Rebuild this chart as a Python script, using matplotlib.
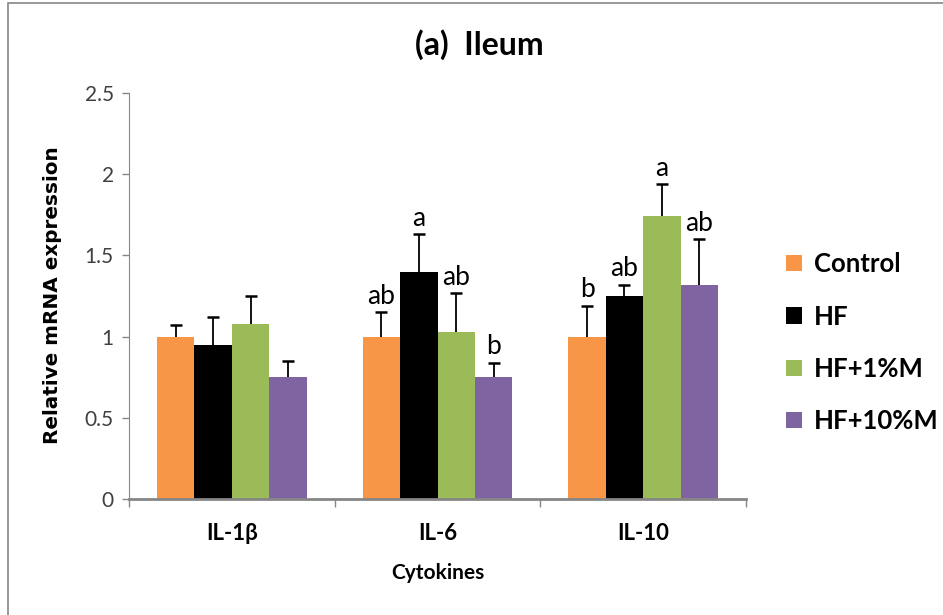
import numpy as np
import matplotlib
matplotlib.use('Agg')
import matplotlib.pyplot as plt
from matplotlib.patches import Rectangle

plt.rcParams['font.family'] = ['Lato', 'DejaVu Sans']

# Data
cytokines = ['IL-1β', 'IL-6', 'IL-10']
groups = ['Control', 'HF', 'HF+1%M', 'HF+10%M']
colors = ['#F79646', '#000000', '#9BBB59', '#8064A2']

means = [
    [1.00, 1.00, 1.00],   # Control
    [0.95, 1.40, 1.25],   # HF
    [1.08, 1.03, 1.74],   # HF+1%M
    [0.75, 0.75, 1.32],   # HF+10%M
]
errs = [
    [0.07, 0.15, 0.19],
    [0.17, 0.23, 0.07],
    [0.17, 0.24, 0.20],
    [0.10, 0.09, 0.28],
]
letters = [
    ['', 'ab', 'b'],
    ['', 'a', 'ab'],
    ['', 'ab', 'a'],
    ['', 'b', 'ab'],
]

fig = plt.figure(figsize=(9.43, 6.15), dpi=100)
ax = fig.add_axes([0.1368, 0.1886, 0.6543, 0.6602])

# outer frame of the chart
fig.patches.append(Rectangle((0.009, -0.01), 1.5, 1.005, transform=fig.transFigure,
                             fill=False, edgecolor='#868686', linewidth=1.2))

x = np.arange(len(cytokines))
w = 1 / 5.5
for i, g in enumerate(groups):
    pos = x + (i - 1.5) * w
    ax.bar(pos, means[i], w, color=colors[i], label=g, zorder=2)
    eb = ax.errorbar(pos, means[i], yerr=[np.zeros(3), errs[i]], fmt='none',
                     ecolor='black', elinewidth=1.3, capsize=4.5, capthick=1.8, zorder=3)
    eb[1][0].set_visible(False)  # only the upper cap
    for j in range(3):
        if letters[i][j]:
            ax.text(pos[j], means[i][j] + errs[i][j] + 0.02, letters[i][j],
                    ha='center', va='bottom', fontsize=19)

ax.set_xlim(-0.5, 2.5)
ax.set_ylim(0, 2.5)
ax.set_yticks(np.arange(0, 2.51, 0.5))
ax.set_yticklabels(['0', '0.5', '1', '1.5', '2', '2.5'], fontsize=15, color='#404040')
ax.set_xticks(x)
ax.set_xticklabels(cytokines, fontsize=16, fontweight='bold')
ax.tick_params(axis='x', length=0, pad=17)
ax.set_xticks([-0.5, 0.5, 1.5, 2.5], minor=True)
ax.tick_params(axis='x', which='minor', length=6, color='#868686', width=1)
ax.tick_params(axis='y', length=5, color='#868686', width=1, direction='out', pad=6)

for s in ['top', 'right']:
    ax.spines[s].set_visible(False)
ax.spines['left'].set_color('#868686')
ax.spines['bottom'].set_color('#868686')
ax.spines['bottom'].set_linewidth(2)

fig.text(53 / 943, 1 - 295 / 615, 'Relative mRNA expression', rotation=90,
         ha='center', va='center', fontsize=14.4, fontweight='bold', family=['DejaVu Sans'])
ax.set_xlabel('Cytokines', fontsize=15, fontweight='bold', labelpad=14)
fig.text(0.508, 0.927, '(a)  Ileum', ha='center', va='center', fontsize=23, fontweight='bold')

ax.legend(loc='center left', bbox_to_anchor=(1.04, 0.385), frameon=False,
          prop={'size': 18.5, 'weight': 'bold'}, handlelength=0.6, handleheight=0.6,
          labelspacing=1.1, handletextpad=0.5, borderaxespad=0.2)

fig.savefig('out.png', dpi=100)
